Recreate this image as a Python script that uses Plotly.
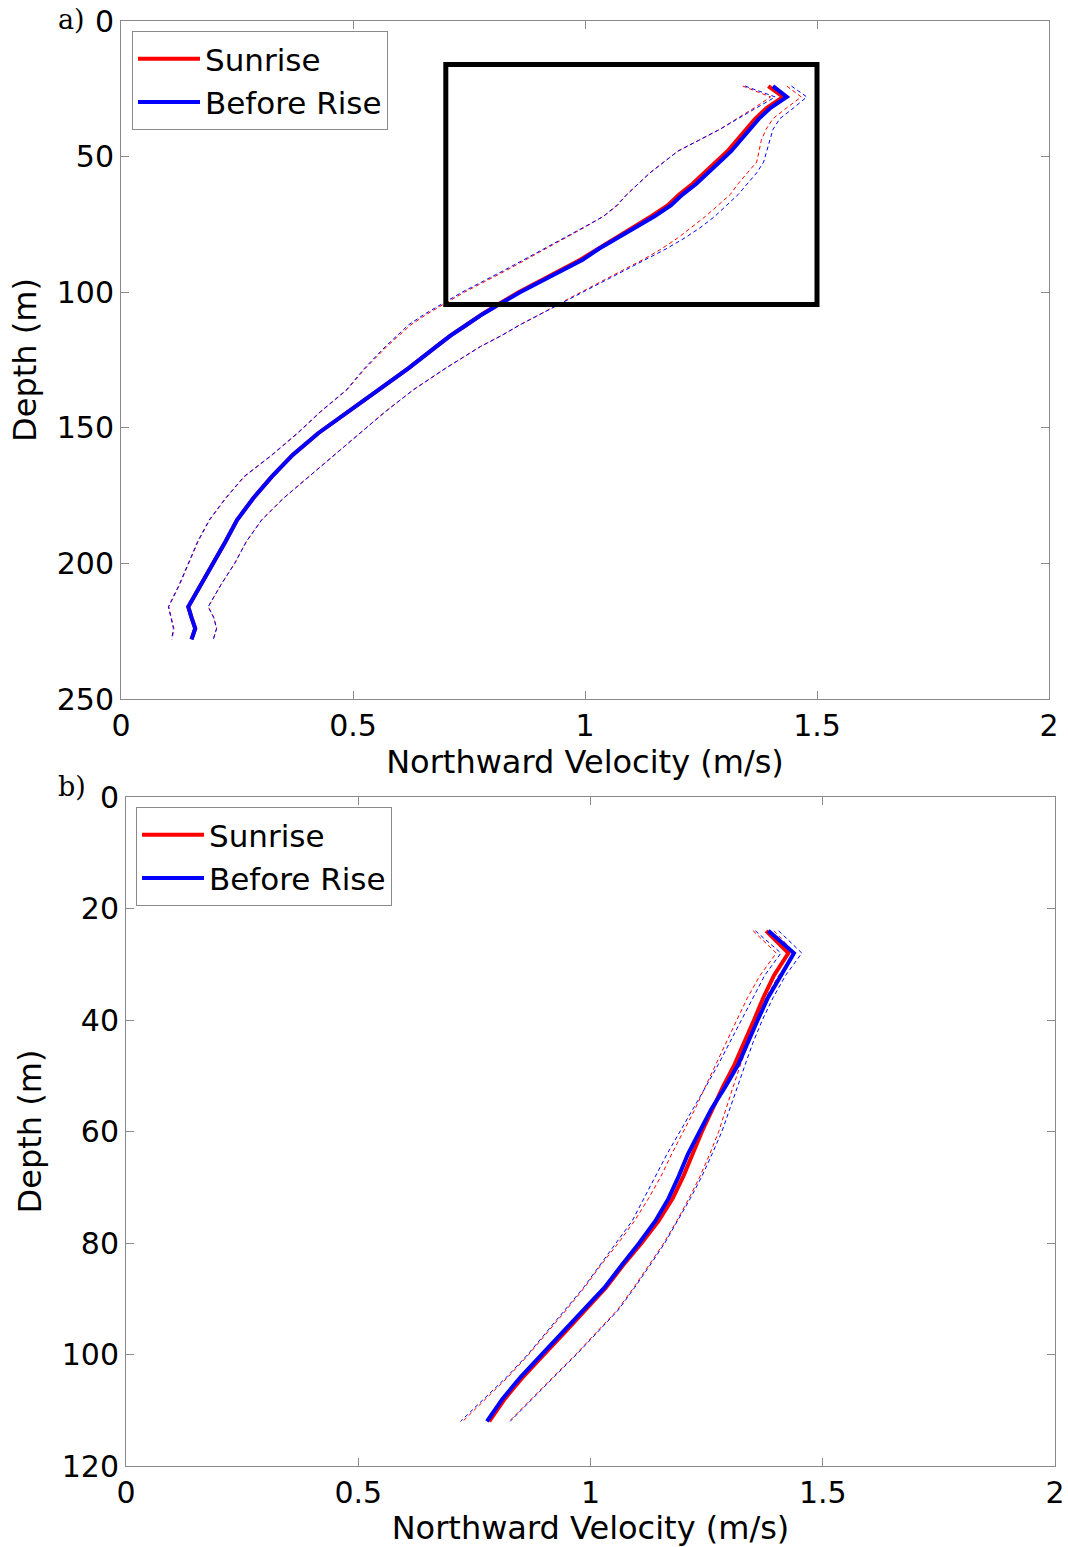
import plotly.graph_objects as go

W, H = 1068, 1547

# ---------------- Panel a) data (depth in m, velocity in m/s) ----------------
depth_a = [24, 28, 32, 36, 40, 44, 48, 52, 56, 60, 64, 68, 72, 76, 80, 84, 88, 92, 96,
           100, 104, 108, 112, 116, 120, 128, 136, 144, 152, 160, 168, 176, 184, 192,
           200, 208, 216, 220, 224, 228]

sunrise_mean_a = [1.395, 1.427, 1.392, 1.367, 1.347, 1.327, 1.307, 1.282, 1.257, 1.232,
                  1.203, 1.178, 1.143, 1.104, 1.064, 1.025, 0.99, 0.946, 0.902, 0.857,
                  0.818, 0.779, 0.745, 0.71, 0.68, 0.62, 0.555, 0.49, 0.425, 0.37,
                  0.325, 0.285, 0.25, 0.225, 0.198, 0.172, 0.145, 0.152, 0.16, 0.152]
before_mean_a = [1.405, 1.435, 1.40, 1.375, 1.355, 1.335, 1.315, 1.29, 1.265, 1.24,
                 1.21, 1.185, 1.15, 1.11, 1.07, 1.03, 0.995, 0.95, 0.905, 0.86,
                 0.82, 0.78, 0.745, 0.71, 0.68, 0.62, 0.555, 0.49, 0.425, 0.37,
                 0.325, 0.285, 0.25, 0.225, 0.198, 0.172, 0.145, 0.152, 0.16, 0.152]

sunrise_low_a = [1.34, 1.40, 1.365, 1.328, 1.29, 1.245, 1.20, 1.17, 1.14, 1.115,
                 1.09, 1.07, 1.04, 1.0, 0.958, 0.914, 0.874, 0.83, 0.785, 0.74,
                 0.70, 0.66, 0.625, 0.598, 0.573, 0.527, 0.487, 0.431, 0.381, 0.326,
                 0.266, 0.226, 0.191, 0.166, 0.146, 0.126, 0.103, 0.109, 0.114, 0.11]
before_low_a = [1.345, 1.41, 1.37, 1.33, 1.29, 1.245, 1.20, 1.17, 1.14, 1.115,
                1.09, 1.068, 1.04, 0.998, 0.955, 0.91, 0.87, 0.825, 0.78, 0.735,
                0.695, 0.655, 0.62, 0.595, 0.57, 0.525, 0.486, 0.43, 0.38, 0.325,
                0.265, 0.225, 0.19, 0.165, 0.145, 0.125, 0.102, 0.108, 0.113, 0.109]

sunrise_high_a = [1.435, 1.466, 1.435, 1.405, 1.39, 1.38, 1.375, 1.37, 1.35, 1.33,
                  1.313, 1.287, 1.26, 1.23, 1.2, 1.165, 1.125, 1.08, 1.035, 0.99,
                  0.947, 0.905, 0.86, 0.82, 0.775, 0.70, 0.63, 0.57, 0.515, 0.46,
                  0.405, 0.35, 0.303, 0.27, 0.245, 0.215, 0.188, 0.20, 0.206, 0.199]
before_high_a = [1.445, 1.478, 1.45, 1.42, 1.405, 1.398, 1.392, 1.385, 1.37, 1.35,
                 1.33, 1.305, 1.28, 1.25, 1.215, 1.175, 1.13, 1.083, 1.037, 0.992,
                 0.947, 0.905, 0.86, 0.82, 0.775, 0.70, 0.63, 0.57, 0.515, 0.46,
                 0.405, 0.35, 0.303, 0.27, 0.245, 0.215, 0.188, 0.20, 0.206, 0.199]

# ---------------- Panel b) data ----------------
depth_b = [24, 28, 32, 36, 40, 44, 48, 52, 56, 60, 64, 68, 72, 76, 80, 84, 88, 92, 96,
           100, 104, 108, 112]

sunrise_mean_b = [1.378, 1.426, 1.395, 1.372, 1.352, 1.33, 1.31, 1.285, 1.262, 1.24,
                  1.22, 1.20, 1.177, 1.147, 1.11, 1.07, 1.033, 0.99, 0.945, 0.90,
                  0.855, 0.815, 0.782]
before_mean_b = [1.383, 1.438, 1.41, 1.382, 1.36, 1.338, 1.318, 1.29, 1.26, 1.235,
                 1.21, 1.19, 1.168, 1.14, 1.105, 1.067, 1.03, 0.985, 0.94, 0.895,
                 0.85, 0.81, 0.777]

sunrise_low_b = [1.35, 1.40, 1.365, 1.338, 1.315, 1.292, 1.27, 1.247, 1.225, 1.20,
                 1.175, 1.152, 1.125, 1.095, 1.06, 1.022, 0.987, 0.948, 0.907, 0.867,
                 0.823, 0.773, 0.725]
before_low_b = [1.355, 1.41, 1.375, 1.35, 1.326, 1.30, 1.275, 1.248, 1.22, 1.192,
                1.165, 1.14, 1.115, 1.09, 1.055, 1.02, 0.985, 0.945, 0.905, 0.865,
                0.82, 0.77, 0.72]

sunrise_high_b = [1.395, 1.44, 1.405, 1.378, 1.358, 1.34, 1.323, 1.307, 1.292, 1.276,
                  1.257, 1.236, 1.212, 1.186, 1.158, 1.126, 1.093, 1.058, 1.013, 0.968,
                  0.92, 0.873, 0.825]
before_high_b = [1.405, 1.455, 1.42, 1.393, 1.37, 1.35, 1.333, 1.316, 1.30, 1.283,
                 1.262, 1.24, 1.215, 1.188, 1.16, 1.128, 1.095, 1.06, 1.015, 0.97,
                 0.922, 0.875, 0.827]

# axis ticks
x_ticks = [0, 0.5, 1, 1.5, 2]
x_ticktext = ["0", "0.5", "1", "1.5", "2"]
y_ticks_a = [0, 50, 100, 150, 200, 250]
y_ticks_b = [0, 20, 40, 60, 80, 100, 120]

# zoom box in panel a
box_x = [0.7, 1.5]
box_y = [16, 104.5]

RED = "#ff0000"
BLUE = "#0000ff"
DASH = "4px,3px"
FONT = "DejaVu Sans, Arial, sans-serif"
SERIF = "DejaVu Serif, Liberation Serif, serif"

fig = go.Figure()


def add_panel(depth, s_mean, b_mean, s_low, b_low, s_high, b_high, xa, ya, leg):
    for vals, col in [(s_low, RED), (s_high, RED), (b_low, BLUE), (b_high, BLUE)]:
        fig.add_trace(go.Scatter(x=vals, y=depth, mode="lines", xaxis=xa, yaxis=ya,
                                 line=dict(color=col, width=1, dash=DASH),
                                 showlegend=False, hoverinfo="skip"))
    fig.add_trace(go.Scatter(x=s_mean, y=depth, mode="lines", name="Sunrise",
                             xaxis=xa, yaxis=ya, legend=leg,
                             line=dict(color=RED, width=4)))
    fig.add_trace(go.Scatter(x=b_mean, y=depth, mode="lines", name="Before Rise",
                             xaxis=xa, yaxis=ya, legend=leg,
                             line=dict(color=BLUE, width=4)))


add_panel(depth_a, sunrise_mean_a, before_mean_a, sunrise_low_a, before_low_a,
          sunrise_high_a, before_high_a, "x", "y", "legend")
add_panel(depth_b, sunrise_mean_b, before_mean_b, sunrise_low_b, before_low_b,
          sunrise_high_b, before_high_b, "x2", "y2", "legend2")

axis_common = dict(showline=True, linecolor="#8a8a8a", linewidth=1, mirror="ticks",
                   ticks="inside", ticklen=8, tickcolor="#8a8a8a", tickwidth=1,
                   showgrid=False, zeroline=False, automargin=False,
                   tickfont=dict(family=FONT, size=30, color="black"))

title_font = dict(family=FONT, size=32, color="black")

fig.update_layout(
    width=W, height=H,
    margin=dict(l=0, r=0, t=0, b=0),
    paper_bgcolor="white", plot_bgcolor="white",
    xaxis=dict(domain=[121 / W, 1049 / W], anchor="y", range=[0, 2],
               tickvals=x_ticks, ticktext=x_ticktext, ticklabelstandoff=0,
               title=dict(text="Northward Velocity (m/s)", font=title_font, standoff=1),
               **axis_common),
    yaxis=dict(domain=[1 - 699 / H, 1 - 21 / H], anchor="x", range=[250, 0],
               tickvals=y_ticks_a, ticklabelstandoff=0,
               title=dict(text="Depth (m)", font=title_font, standoff=10),
               **axis_common),
    xaxis2=dict(domain=[126 / W, 1055 / W], anchor="y2", range=[0, 2],
                tickvals=x_ticks, ticktext=x_ticktext, ticklabelstandoff=0,
                title=dict(text="Northward Velocity (m/s)", font=title_font, standoff=1),
                **axis_common),
    yaxis2=dict(domain=[1 - 1466 / H, 1 - 797 / H], anchor="x2", range=[120, 0],
                tickvals=y_ticks_b, ticklabelstandoff=0,
                title=dict(text="Depth (m)", font=title_font, standoff=10),
                **axis_common),
    legend=dict(x=132 / W, y=1 - 31 / H, xanchor="left", yanchor="top",
                bgcolor="white", bordercolor="#8a8a8a", borderwidth=1,
                font=dict(family=FONT, size=31, color="black"), itemwidth=62,
                tracegroupgap=0),
    legend2=dict(x=136 / W, y=1 - 807 / H, xanchor="left", yanchor="top",
                 bgcolor="white", bordercolor="#8a8a8a", borderwidth=1,
                 font=dict(family=FONT, size=31, color="black"), itemwidth=62,
                 tracegroupgap=0),
    shapes=[dict(type="rect", xref="x", yref="y", x0=box_x[0], x1=box_x[1],
                 y0=box_y[0], y1=box_y[1], line=dict(color="black", width=5))],
    annotations=[
        dict(text="a)", xref="paper", yref="paper", x=56 / W, y=1 - 20 / H,
             xanchor="left", yanchor="middle", showarrow=False,
             font=dict(family=SERIF, size=27, color="black")),
        dict(text="b)", xref="paper", yref="paper", x=56 / W, y=1 - 786 / H,
             xanchor="left", yanchor="middle", showarrow=False,
             font=dict(family=SERIF, size=27, color="black")),
    ],
)

fig.write_html("out.html")
